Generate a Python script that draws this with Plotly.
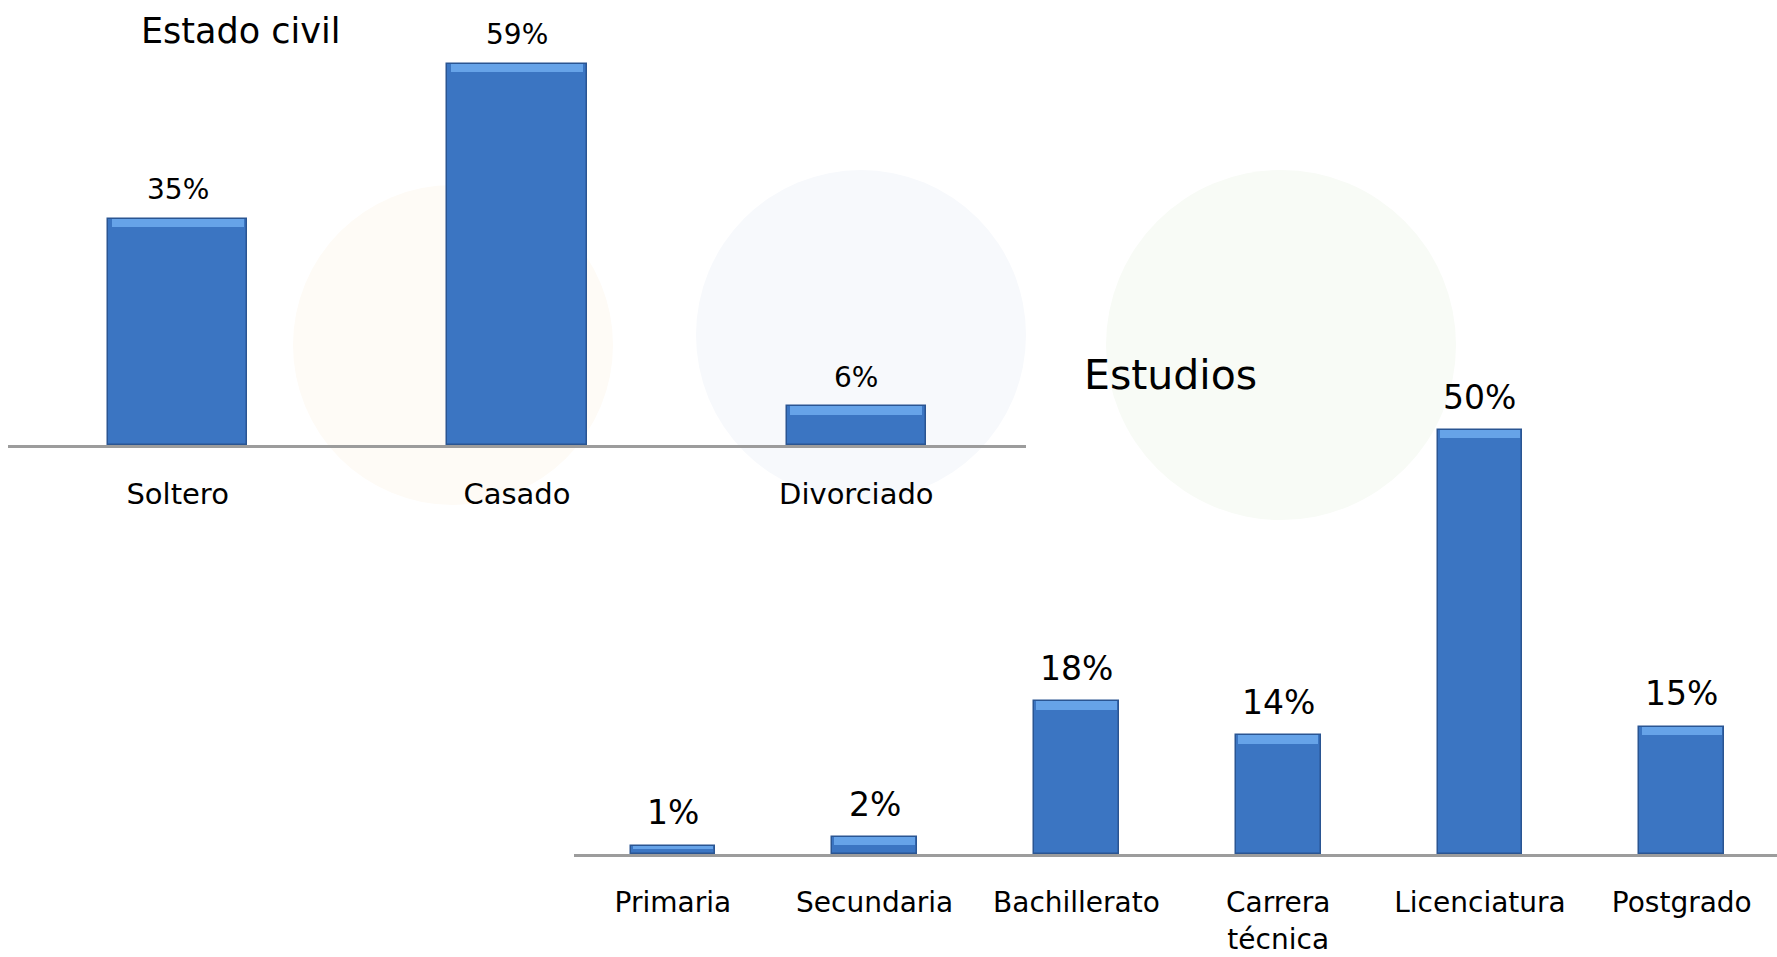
import plotly.graph_objects as go

# ---- data ----
civil_title = "Estado civil"
civil_cats = ["Soltero", "Casado", "Divorciado"]
civil_vals = [35, 59, 6]

estudios_title = "Estudios"
estudios_cats = ["Primaria", "Secundaria", "Bachillerato", "Carrera<br>técnica", "Licenciatura", "Postgrado"]
estudios_vals = [1, 2, 18, 14, 50, 15]

FONT = "DejaVu Sans"
BAR = "#3b75c2"
BAR_LINE = "#2a5592"
HILITE = "#66a3e8"

W = 1777
FH = 957  # figure height in px


def px(x):
    return x / W


def py(y):
    return 1 - y / FH


fig = go.Figure()

# watermark (very faint decorative circles)
for cx, cy, r, col in [(453, 345, 160, "#fefbf6"), (861, 335, 165, "#f7f9fc"), (1281, 345, 175, "#f8fbf6")]:
    fig.add_shape(type="circle", xref="paper", yref="paper",
                  x0=px(cx - r), x1=px(cx + r), y0=py(cy + r), y1=py(cy - r),
                  fillcolor=col, line=dict(width=0), layer="below")


def add_chart(cats, vals, xa, ya, width, hi_h, label_size, shift):
    fig.add_trace(go.Bar(x=cats, y=vals, xaxis=xa, yaxis=ya, width=width,
                         marker=dict(color=BAR, line=dict(color=BAR_LINE, width=1.5)),
                         hoverinfo="x+y", showlegend=False))
    hh = [min(hi_h, v * 0.45) for v in vals]
    fig.add_trace(go.Bar(x=cats, y=hh, base=[v - h for v, h in zip(vals, hh)], xaxis=xa, yaxis=ya,
                         width=width * 0.95,
                         marker=dict(color=HILITE, line=dict(width=0)),
                         hoverinfo="skip", showlegend=False))
    for c, v in zip(cats, vals):
        fig.add_annotation(x=c, y=v, xref=xa, yref=ya, text=f"{v}%", showarrow=False,
                           yanchor="middle", yshift=shift,
                           font=dict(family=FONT, size=label_size, color="#000000"))


add_chart(civil_cats, civil_vals, "x", "y", 0.41, 1.3, 28, 29)
add_chart(estudios_cats, estudios_vals, "x2", "y2", 0.42, 1.0, 33, 33)

axis_common = dict(showline=True, linecolor="#9c9c9c", linewidth=2.5, showgrid=False, zeroline=False,
                   ticks="outside", tickcolor="rgba(0,0,0,0)", fixedrange=True, automargin=False)

AX1 = 445  # baseline pixel rows (from top)
AX2 = 854

fig.update_layout(
    width=W, height=FH, margin=dict(l=0, r=0, t=0, b=0, autoexpand=False),
    paper_bgcolor="white", plot_bgcolor="rgba(0,0,0,0)",
    barmode="overlay", bargap=0,
    xaxis=dict(domain=[px(8), px(1026)], range=[-0.5, 2.5], anchor="y", ticklen=21,
               tickfont=dict(family=FONT, size=29, color="#000000"), **axis_common),
    yaxis=dict(domain=[py(AX1), 1.0], range=[0, AX1 / 6.46], anchor="x", visible=False,
               fixedrange=True, automargin=False),
    xaxis2=dict(domain=[px(574), 1.0], range=[-0.49, 5.472], anchor="y2", ticklen=22,
                tickfont=dict(family=FONT, size=28, color="#000000"), **axis_common),
    yaxis2=dict(domain=[py(AX2), 1.0], range=[0, AX2 / 8.48], anchor="x2", visible=False,
                fixedrange=True, automargin=False),
)

fig.add_annotation(x=px(240), y=py(31), xref="paper", yref="paper", text=civil_title,
                   showarrow=False, xanchor="center", yanchor="middle",
                   font=dict(family=FONT, size=35, color="#000000"))
fig.add_annotation(x=px(1170), y=py(375), xref="paper", yref="paper", text=estudios_title,
                   showarrow=False, xanchor="center", yanchor="middle",
                   font=dict(family=FONT, size=41, color="#000000"))

fig.write_html("out.html", config={"displayModeBar": False}, post_script=(
    "document.documentElement.style.margin='0';document.documentElement.style.padding='0';"
    "document.body.style.margin='0';document.body.style.padding='0';"
    "document.documentElement.style.overflow='hidden';document.body.style.overflow='hidden';"))
